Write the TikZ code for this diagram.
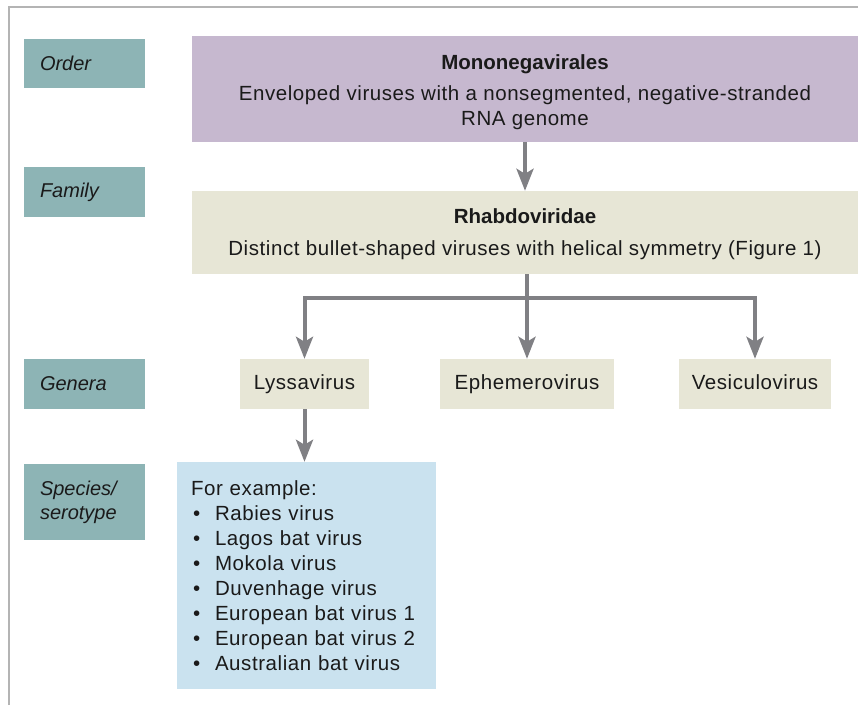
\documentclass[tikz,border=0pt]{standalone}
\usepackage{fontspec}
\setmainfont{Liberation Sans}[LetterSpace=2.8, BoldFeatures={LetterSpace=0}]
\newfontfamily\rankfont{Liberation Sans}
\usetikzlibrary{arrows.meta}
\definecolor{rankcol}{HTML}{8DB4B5}
\definecolor{ordercol}{HTML}{C6B8CF}
\definecolor{famcol}{HTML}{E7E6D6}
\definecolor{speccol}{HTML}{CAE2EF}
\definecolor{arrowcol}{HTML}{808084}
\definecolor{framecol}{HTML}{B4B4B4}
\definecolor{inkcol}{HTML}{1A1A1A}
\tikzset{
  rankbox/.style={fill=rankcol, text=inkcol, minimum width=121pt, text width=89pt,
    align=left, inner xsep=16pt, inner ysep=0pt, font=\rankfont\fontsize{20}{24}\selectfont\itshape},
  taxbox/.style={text=inkcol, inner sep=0pt, align=center},
  genbox/.style={taxbox, fill=famcol, minimum height=50pt, text height=15pt, text depth=4pt},
  conn/.style={draw=arrowcol, line width=4pt, line join=miter,
    -{Stealth[length=22pt,width=17pt,inset=5pt]}},
}
\begin{document}
\begin{tikzpicture}[x=1pt,y=-1pt,font=\fontsize{20.5}{25}\selectfont]
\useasboundingbox (0,0) rectangle (858,705);
\draw[framecol, line width=1.5pt] (9,705) -- (9,7) -- (858,7);

% rank labels
\node[rankbox, minimum height=49pt] (rorder) at (84.5,63.5) {Order};
\node[rankbox, minimum height=50pt] (rfamily) at (84.5,192) {Family};
\node[rankbox, minimum height=50pt] (rgenera) at (84.5,384) {Genera};
\node[rankbox, minimum height=76pt] (rspecies) at (84.5,502) {Species/\\serotype};

% taxa
\node[taxbox, fill=ordercol, minimum width=666pt, minimum height=106pt] (mono) at (525,89)
  {\rule{0pt}{21pt}\textbf{Mononegavirales}\\[6pt]Enveloped viruses with a nonsegmented, negative-stranded\\RNA genome};
\node[taxbox, fill=famcol, minimum width=666pt, minimum height=83pt] (rhab) at (525,232.5)
  {\rule{0pt}{19pt}\textbf{Rhabdoviridae}\\[7pt]Distinct bullet-shaped viruses with helical symmetry (Figure 1)};
\node[genbox, minimum width=129pt] (lyss) at (304.5,384) {Lyssavirus};
\node[genbox, minimum width=174pt] (ephe) at (527,384) {Ephemerovirus};
\node[genbox, minimum width=152pt] (vesi) at (755,384) {Vesiculovirus};
\node[fill=speccol, text=inkcol, align=left, text width=231pt, inner xsep=14pt, inner ysep=0pt,
  minimum height=227pt] (spec) at (306.5,575.5)
  {For example:\\
   \makebox[24pt][l]{\hspace{2pt}\textbullet}Rabies virus\\
   \makebox[24pt][l]{\hspace{2pt}\textbullet}Lagos bat virus\\
   \makebox[24pt][l]{\hspace{2pt}\textbullet}Mokola virus\\
   \makebox[24pt][l]{\hspace{2pt}\textbullet}Duvenhage virus\\
   \makebox[24pt][l]{\hspace{2pt}\textbullet}European bat virus 1\\
   \makebox[24pt][l]{\hspace{2pt}\textbullet}European bat virus 2\\
   \makebox[24pt][l]{\hspace{2pt}\textbullet}Australian bat virus};

% connectors
\coordinate (bar) at (0,298);
\draw[conn] (mono.south) -- (rhab.north);
\draw[conn] (rhab.south -| ephe.north) -- (ephe.north);
\draw[conn] (bar -| ephe.north) -- (bar -| lyss.north) -- (lyss.north);
\draw[conn] (bar -| ephe.north) -- (bar -| vesi.north) -- (vesi.north);
\draw[conn] (lyss.south) -- (lyss.south |- spec.north);
\end{tikzpicture}
\end{document}
